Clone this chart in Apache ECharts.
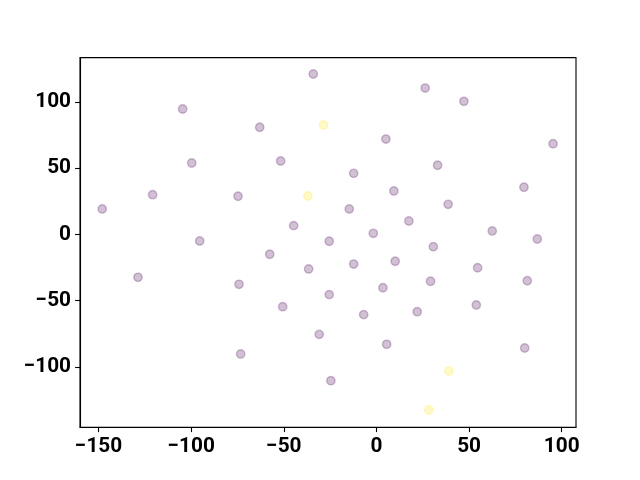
<!DOCTYPE html>
<html>
<head>
<meta charset="utf-8">
<script src="https://cdn.jsdelivr.net/npm/echarts@6/dist/echarts.min.js"></script>
<style>html,body{margin:0;padding:0;background:#fff;}#c{width:640px;height:480px;}</style>
</head>
<body>
<div id="c"></div>
<script>
const purpleX = [-34.1, 26.3, -104.6, 47.2, -63.0, 5.1, 95.3, -99.7, -51.7, -12.3, 33.0, 79.6, -120.8, -74.7, 9.4, -148.0, -44.7, -14.7, 38.7, -95.4, -25.5, 17.5, -1.7, 62.5, 86.8, 30.7, -57.6, -36.6, -128.7, -74.2, -12.3, 10.1, 54.6, 81.4, 29.2, 3.5, -25.5, -50.6, -6.9, 22.0, 53.9, -30.9, -73.3, 5.5, 80.0, -24.6];
const purpleY = [121.1, 110.5, 94.7, 100.5, 80.9, 72.0, 68.5, 53.9, 55.4, 46.1, 52.2, 35.6, 30.0, 28.8, 32.8, 19.2, 6.6, 19.2, 22.7, -5.0, -5.2, 10.1, 0.8, 2.6, -3.5, -9.3, -15.0, -26.1, -32.4, -37.7, -22.4, -20.3, -25.2, -35.0, -35.4, -40.3, -45.5, -54.6, -60.6, -58.4, -53.3, -75.5, -90.3, -83.0, -85.8, -110.5];
const yellowX = [-28.5, -37.0, 39.1, 28.3];
const yellowY = [82.6, 29.0, -103.2, -132.6];
const xTicks = [-150, -100, -50, 0, 50, 100];
const yTicks = [-100, -50, 0, 50, 100];

const fmt = v => String(v).replace('-', '\u2212');
const zip = (a, b) => a.map((v, i) => [v, b[i]]);
const labelStyle = {fontFamily: 'Roboto', fontWeight: 'bold', fontSize: 20.8, color: '#000'};
const chart = echarts.init(document.getElementById('c'), null, {renderer: 'canvas'});
chart.setOption({
  animation: false,
  backgroundColor: '#fff',
  grid: {left: 80, right: 64, top: 57.6, bottom: 52.8, show: true, borderColor: '#000', borderWidth: 1.1, backgroundColor: 'transparent'},
  xAxis: {
    type: 'value', min: -160, max: 107.7,
    axisLine: {show: true, onZero: false, lineStyle: {color: '#000', width: 1.1}},
    axisTick: {show: true, inside: false, length: 4.9, lineStyle: {color: '#000', width: 1.1}, customValues: xTicks},
    axisLabel: {...labelStyle, margin: 9, formatter: fmt, customValues: xTicks},
    splitLine: {show: false}
  },
  yAxis: {
    type: 'value', min: -145.6, max: 133.5,
    axisLine: {show: true, onZero: false, lineStyle: {color: '#000', width: 1.1}},
    axisTick: {show: true, inside: false, length: 4.9, lineStyle: {color: '#000', width: 1.1}, customValues: yTicks},
    axisLabel: {...labelStyle, margin: 9, formatter: fmt, customValues: yTicks},
    splitLine: {show: false}
  },
  series: [
    {type: 'scatter', data: zip(purpleX, purpleY), symbolSize: 8.4,
     itemStyle: {color: 'rgba(68,1,84,0.3)', borderColor: 'rgba(68,1,84,0.3)', borderWidth: 1.4}},
    {type: 'scatter', data: zip(yellowX, yellowY), symbolSize: 8.4,
     itemStyle: {color: 'rgba(253,231,37,0.3)', borderColor: 'rgba(253,231,37,0.3)', borderWidth: 1.4}}
  ]
});
</script>
</body>
</html>
